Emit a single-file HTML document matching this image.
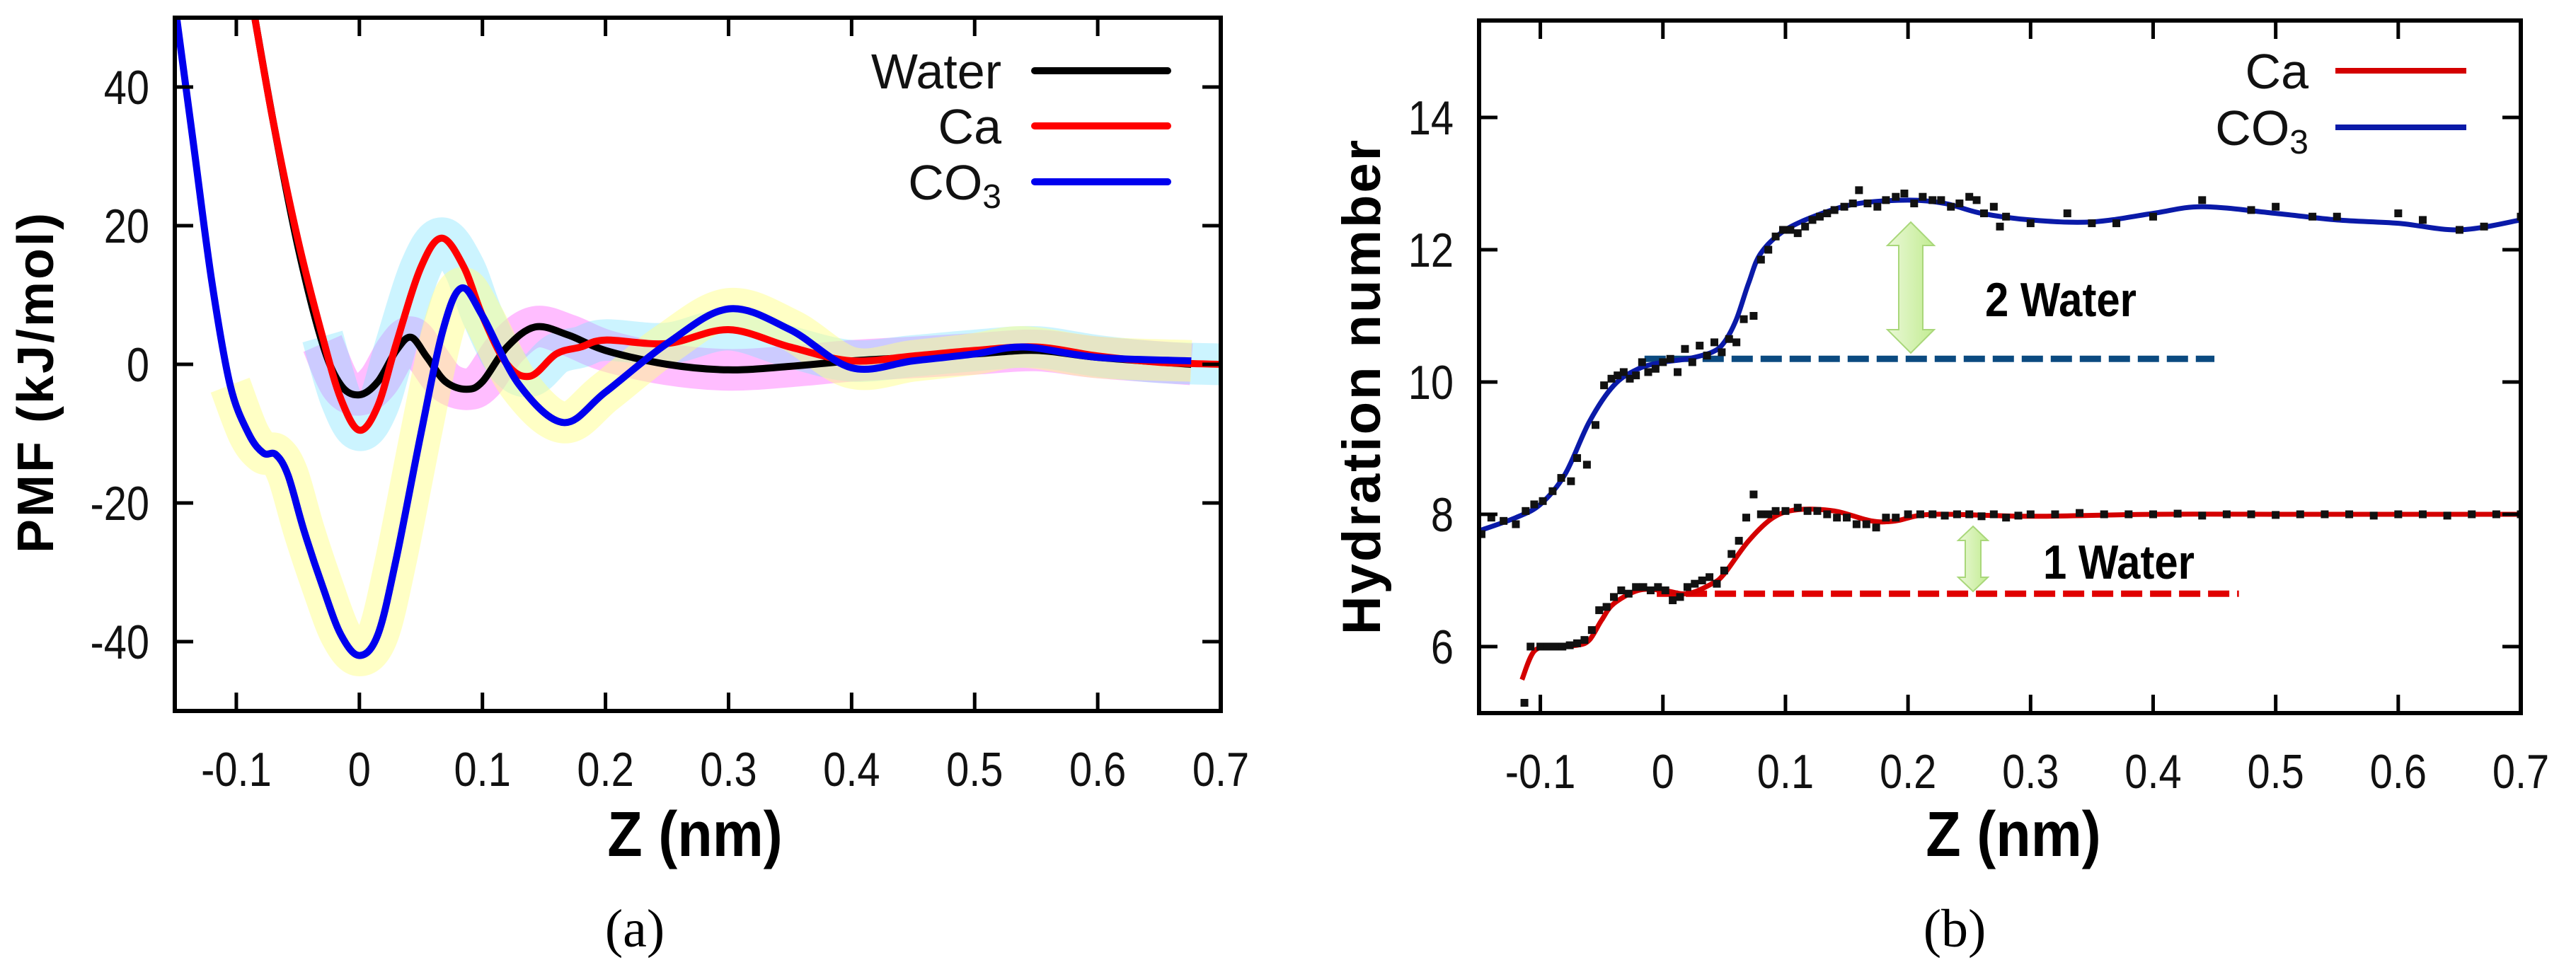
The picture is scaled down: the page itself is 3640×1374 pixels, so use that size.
<!DOCTYPE html>
<html><head><meta charset="utf-8">
<style>
html,body{margin:0;padding:0;background:#fff;}
svg{display:block;}
</style></head>
<body>
<svg id="fig" width="3640" height="1374" viewBox="0 0 3640 1374" xmlns="http://www.w3.org/2000/svg" style="font-family:'Liberation Sans',sans-serif">
<g id="pa"></g>
<g id="pb"></g>
</svg>
<script>
// ---------- Panel (a) data : PMF (kJ/mol) ----------
const pmfXTicks = [-0.1,0,0.1,0.2,0.3,0.4,0.5,0.6,0.7];
const pmfYTicks = [-40,-20,0,20,40];
const waterZ = [-0.085,-0.07,-0.05,-0.03,-0.015,0,0.015,0.03,0.042,0.055,0.07,0.087,0.1,0.12,0.143,0.17,0.2,0.25,0.3,0.35,0.4,0.45,0.5,0.55,0.6,0.676];
const waterV = [50,35,17,3,-3,-4.4,-2.5,2,3.9,1,-2.5,-3.6,-2.5,2.5,5.4,4.2,2,0,-0.8,-0.3,0.5,1,1.5,2,1,0];
const caZ = [-0.085,-0.07,-0.05,-0.03,-0.015,0,0.015,0.03,0.05,0.067,0.085,0.1,0.12,0.139,0.16,0.18,0.2,0.25,0.3,0.35,0.4,0.45,0.5,0.55,0.6,0.65,0.7];
const caV = [50,35,18,4,-5,-9.5,-6,3,14,18.2,14,7,0,-1.7,1.5,2.5,3.5,3,5,2.5,0.5,1.2,2,2.5,1.2,0.3,0];
const co3Z = [-0.15,-0.135,-0.12,-0.105,-0.09,-0.078,-0.068,-0.058,-0.045,-0.03,-0.015,0,0.015,0.03,0.05,0.068,0.083,0.1,0.13,0.166,0.2,0.25,0.3,0.35,0.4,0.45,0.5,0.54,0.6,0.676];
const co3V = [52,32,12,-3,-10,-12.8,-13,-16,-24,-32,-39,-42,-39,-28,-10,5,11,7,-3,-8.4,-4,3,8,5,-0.5,0.5,1.5,2.5,1,0.5];
const pmfBand = 3;
const bandStartZ = [-0.03,-0.03,-0.11];

// ---------- Panel (b) data : hydration number ----------
const hydXTicks = [-0.1,0,0.1,0.2,0.3,0.4,0.5,0.6,0.7];
const hydYTicks = [6,8,10,12,14];
const co3FitZ = [-0.15,-0.12,-0.1,-0.08,-0.06,-0.04,-0.02,0,0.02,0.04,0.05,0.06,0.07,0.08,0.1,0.13,0.16,0.2,0.23,0.26,0.3,0.35,0.4,0.44,0.5,0.55,0.6,0.65,0.7];
const co3FitN = [7.75,7.95,8.15,8.6,9.4,9.95,10.2,10.3,10.35,10.45,10.6,10.95,11.5,11.95,12.3,12.55,12.7,12.75,12.7,12.55,12.45,12.42,12.55,12.65,12.55,12.45,12.4,12.3,12.45];
const caFitZ = [-0.115,-0.105,-0.09,-0.07,-0.06,-0.05,-0.04,-0.02,0,0.02,0.04,0.05,0.07,0.09,0.11,0.14,0.17,0.19,0.22,0.3,0.4,0.5,0.6,0.7];
const caFitN = [5.5,5.93,6.0,6.02,6.1,6.4,6.65,6.85,6.85,6.8,6.95,7.1,7.6,7.95,8.07,8.05,7.9,7.9,8.0,7.97,8.0,8.0,8.0,8.0];
const co3PtsZ = [-0.148,-0.14,-0.13,-0.12,-0.112,-0.105,-0.098,-0.09,-0.083,-0.075,-0.07,-0.062,-0.055,-0.048,-0.042,-0.037,-0.032,-0.027,-0.022,-0.017,-0.012,-0.006,0,0.006,0.012,0.018,0.024,0.03,0.036,0.042,0.048,0.054,0.06,0.066,0.074,0.08,0.086,0.092,0.098,0.104,0.11,0.116,0.122,0.128,0.134,0.14,0.148,0.155,0.16,0.167,0.175,0.182,0.19,0.197,0.205,0.212,0.22,0.227,0.235,0.242,0.25,0.256,0.262,0.27,0.275,0.28,0.3,0.33,0.35,0.37,0.4,0.44,0.48,0.5,0.53,0.55,0.6,0.62,0.65,0.67,0.7];
const co3PtsN = [7.7,7.95,7.9,7.85,8.05,8.15,8.2,8.35,8.55,8.5,8.85,8.75,9.35,9.95,10.05,10.1,10.15,10.05,10.1,10.3,10.15,10.2,10.3,10.35,10.15,10.5,10.3,10.55,10.4,10.6,10.45,10.65,10.6,10.95,11.0,11.85,12.0,12.2,12.3,12.3,12.25,12.35,12.45,12.5,12.55,12.6,12.65,12.7,12.9,12.7,12.65,12.75,12.8,12.85,12.7,12.8,12.75,12.75,12.65,12.7,12.8,12.75,12.55,12.65,12.35,12.5,12.4,12.55,12.4,12.4,12.5,12.75,12.6,12.65,12.5,12.5,12.55,12.45,12.3,12.35,12.5];
const caPtsZ = [-0.113,-0.108,-0.1,-0.094,-0.088,-0.082,-0.076,-0.07,-0.064,-0.058,-0.052,-0.046,-0.04,-0.034,-0.028,-0.022,-0.016,-0.01,-0.004,0.002,0.008,0.014,0.02,0.026,0.032,0.038,0.044,0.05,0.056,0.062,0.068,0.074,0.08,0.086,0.092,0.1,0.11,0.118,0.126,0.134,0.142,0.15,0.158,0.166,0.174,0.182,0.19,0.2,0.21,0.22,0.23,0.24,0.25,0.26,0.27,0.28,0.29,0.3,0.32,0.34,0.36,0.38,0.4,0.42,0.44,0.46,0.48,0.5,0.52,0.54,0.56,0.58,0.6,0.62,0.64,0.66,0.68,0.7];
const caPtsN = [5.15,6.0,6.0,6.0,6.0,6.0,6.02,6.05,6.1,6.25,6.55,6.6,6.75,6.85,6.8,6.9,6.9,6.85,6.9,6.85,6.7,6.75,6.9,6.95,7.0,7.05,6.95,7.15,7.4,7.6,7.95,8.3,8.0,8.0,8.05,8.05,8.1,8.05,8.05,8.0,7.95,7.95,7.85,7.85,7.8,7.95,7.95,8.0,8.0,8.0,7.98,8.0,8.0,7.97,8.0,7.95,7.98,8.0,8.0,8.02,8.0,8.0,8.0,8.01,7.98,8.0,8.0,7.99,8.0,8.0,8.0,7.98,8.0,8.0,7.98,8.0,8.0,8.0];
const co3RefN = 10.35;
const caRefN = 6.8;

const NS = "http://www.w3.org/2000/svg";
function el(tag, attrs, parent, txt){
  const e = document.createElementNS(NS, tag);
  for (const k in attrs) e.setAttribute(k, attrs[k]);
  if (txt !== undefined) e.textContent = txt;
  parent.appendChild(e);
  return e;
}
function smoothPath(xs, ys, sx, sy){
  const p = xs.map((x,i)=>[sx(x), sy(ys[i])]);
  let d = "M"+p[0][0].toFixed(1)+","+p[0][1].toFixed(1);
  for (let i=0;i<p.length-1;i++){
    const p0=p[Math.max(i-1,0)], p1=p[i], p2=p[i+1], p3=p[Math.min(i+2,p.length-1)];
    const c1=[p1[0]+(p2[0]-p0[0])/6, p1[1]+(p2[1]-p0[1])/6];
    const c2=[p2[0]-(p3[0]-p1[0])/6, p2[1]-(p3[1]-p1[1])/6];
    d += " C"+c1[0].toFixed(1)+","+c1[1].toFixed(1)+" "+c2[0].toFixed(1)+","+c2[1].toFixed(1)+" "+p2[0].toFixed(1)+","+p2[1].toFixed(1);
  }
  return d;
}
function frame(g, L, R, T, B, xT, yT, sx, sy, xFmt){
  for (const t of yT){
    const y = sy(t);
    const a = el("line",{x1:L,x2:L+26,y1:y,y2:y,stroke:"#000","stroke-width":5},g);
    
    
    el("line",{x1:R,x2:R-26,y1:y,y2:y,stroke:"#000","stroke-width":5},g);
    const lb = el("text",{x:0,y:y+24,"text-anchor":"end","font-size":68,fill:"#111",transform:"translate("+(L-36)+",0) scale(0.85,1)"},g,String(t));
    
    
  }
  for (const t of xT){
    const x = sx(t);
    el("line",{x1:x,x2:x,y1:B,y2:B-26,stroke:"#000","stroke-width":5},g);
    el("line",{x1:x,x2:x,y1:T,y2:T+26,stroke:"#000","stroke-width":5},g);
    const lb = el("text",{x:0,y:B+106,"text-anchor":"middle","font-size":68,fill:"#111",transform:"translate("+x+",0) scale(0.85,1)"},g,xFmt(t));
    
    
  }
  const f = el("rect",{x:L,y:T,width:R-L,height:B-T,fill:"none",stroke:"#000","stroke-width":6},g);
  
  
}
const fmt = t => String(t);

// ---------- Panel (a) ----------
(function(){
  const g = document.getElementById("pa");
  const L=247,R=1725,T=25,B=1005;
  const sx = z => L + (z+0.15)/0.85*(R-L);
  const sy = v => 515 - v*9.8;
  const clip = el("clipPath",{id:"clipA"},g);
  el("rect",{x:L,y:T,width:R-L,height:B-T},clip);
  const plot = el("g",{"clip-path":"url(#clipA)"},g);
  const bands = [[waterZ,waterV,"rgba(255,90,255,0.4)"],[caZ,caV,"rgba(120,225,255,0.38)"],[co3Z,co3V,"rgba(255,255,140,0.5)"]];
  bands.forEach(([xs,ys,c],k)=>{
    const ix = xs.map((x,i)=>i).filter(i=>xs[i]>=bandStartZ[k]);
    const p = el("path",{d:smoothPath(ix.map(i=>xs[i]),ix.map(i=>ys[i]),sx,sy),fill:"none",stroke:c,"stroke-width":pmfBand*2*9.8,"stroke-linejoin":"round"},plot);
    
    
  });
  const series = [[waterZ,waterV,"#000","water-line"],[caZ,caV,"#ff0000","ca-line"],[co3Z,co3V,"#0000ee","co3-line"]];
  for (const [xs,ys,c,n] of series){
    const p = el("path",{d:smoothPath(xs,ys,sx,sy),fill:"none",stroke:c,"stroke-width":10,"stroke-linejoin":"round"},plot);
    
    
  }
  frame(g,L,R,T,B,pmfXTicks,pmfYTicks,sx,sy,fmt);
  const leg = el("g",{},g);
  
  
  const items = [["Water","#000",100],["Ca","#ff0000",178],["CO","#0000ee",257]];
  for (const [t,c,y] of items){
    const tx = el("text",{x:1415,y:y+25,"text-anchor":"end","font-size":70,fill:"#111"},leg,t);
    if (t==="CO"){ el("tspan",{"font-size":48,dy:12},tx,"3"); }
    
    
    const ln = el("line",{x1:1462,x2:1650,y1:y,y2:y,stroke:c,"stroke-width":10,"stroke-linecap":"round"},leg);
    
    
  }
  const yl = el("text",{x:0,y:0,"text-anchor":"middle","font-size":72,"font-weight":"bold",fill:"#000",transform:"translate(75,540) rotate(-90)","letter-spacing":"3"},g,"PMF (kJ/mol)");
  
  
  const xl = el("text",{x:0,y:0,"text-anchor":"middle","font-size":90,"font-weight":"bold",fill:"#000",transform:"translate(982,1210) scale(0.9,1)"},g,"Z (nm)");
  
  
  const cap = el("text",{x:897,y:1338,"text-anchor":"middle","font-size":76,fill:"#000",style:"font-family:'Liberation Serif',serif"},g,"(a)");
  
  
})();

// ---------- Panel (b) ----------
(function(){
  const g = document.getElementById("pb");
  const L=2090,R=3562,T=29,B=1008;
  const sx = z => L + (z+0.15)/0.85*(R-L);
  const sy = n => 727 - (n-8)*93.5;
  const clip = el("clipPath",{id:"clipB"},g);
  el("rect",{x:L,y:T,width:R-L,height:B-T},clip);
  const plot = el("g",{"clip-path":"url(#clipB)"},g);
  const d1 = el("line",{x1:sx(-0.015),x2:sx(0.45),y1:sy(co3RefN),y2:sy(co3RefN),stroke:"#0b4a80","stroke-width":9,"stroke-dasharray":"30 11"},plot);
  
  
  const d2 = el("line",{x1:sx(-0.005),x2:sx(0.47),y1:sy(caRefN),y2:sy(caRefN),stroke:"#e00000","stroke-width":9,"stroke-dasharray":"30 11"},plot);
  
  
  const f1 = el("path",{d:smoothPath(co3FitZ,co3FitN,sx,sy),fill:"none",stroke:"#0a1aa8","stroke-width":7},plot);
  
  
  const f2 = el("path",{d:smoothPath(caFitZ,caFitN,sx,sy),fill:"none",stroke:"#d40000","stroke-width":7},plot);
  
  
  for (let i=0;i<co3PtsZ.length;i++){
    const r = el("rect",{x:sx(co3PtsZ[i])-5.5,y:sy(co3PtsN[i])-5.5,width:11,height:11,fill:"#111"},plot);
    
    
  }
  for (let i=0;i<caPtsZ.length;i++){
    const r = el("rect",{x:sx(caPtsZ[i])-5.5,y:sy(caPtsN[i])-5.5,width:11,height:11,fill:"#111"},plot);
    
    
  }
  frame(g,L,R,T,B,hydXTicks,hydYTicks,sx,sy,fmt);
  const defs = el("defs",{},g);
  const gr = el("linearGradient",{id:"ag",x1:0,y1:0,x2:1,y2:0},defs);
  el("stop",{offset:"0","stop-color":"#eaf8d6"},gr);
  el("stop",{offset:"1","stop-color":"#c2ec92"},gr);
  function arrow(cx, y1, y2, w, hw, hh, name){
    const pts = [[cx,y1],[cx+hw,y1+hh],[cx+w,y1+hh],[cx+w,y2-hh],[cx+hw,y2-hh],[cx,y2],[cx-hw,y2-hh],[cx-w,y2-hh],[cx-w,y1+hh],[cx-hw,y1+hh]];
    const a = el("polygon",{points:pts.map(p=>p.join(",")).join(" "),fill:"url(#ag)",stroke:"#a9d77a","stroke-width":2},g);
    
    
  }
  arrow(2700,314,499,17,33,33,"two-water-arrow");
  arrow(2788,744,836,11,21,20,"one-water-arrow");
  const t2 = el("text",{x:0,y:447,"font-size":68,"font-weight":"bold",fill:"#000",transform:"translate(2805,0) scale(0.88,1)"},g,"2 Water");
  
  
  const t1 = el("text",{x:0,y:818,"font-size":68,"font-weight":"bold",fill:"#000",transform:"translate(2887,0) scale(0.88,1)"},g,"1 Water");
  
  
  const leg = el("g",{},g);
  
  
  const items = [["Ca","#d40000",100],["CO","#0a1aa8",180]];
  for (const [t,c,y] of items){
    const tx = el("text",{x:3262,y:y+25,"text-anchor":"end","font-size":70,fill:"#111"},leg,t);
    if (t==="CO"){ el("tspan",{"font-size":48,dy:12},tx,"3"); }
    
    
    const ln = el("line",{x1:3300,x2:3485,y1:y,y2:y,stroke:c,"stroke-width":8},leg);
    
    
  }
  const yl = el("text",{x:0,y:0,"text-anchor":"middle","font-size":76,"font-weight":"bold",fill:"#000",transform:"translate(1950,546) rotate(-90)","letter-spacing":"3"},g,"Hydration number");
  
  
  const xl = el("text",{x:0,y:0,"text-anchor":"middle","font-size":90,"font-weight":"bold",fill:"#000",transform:"translate(2845,1210) scale(0.9,1)"},g,"Z (nm)");
  
  
  const cap = el("text",{x:2762,y:1338,"text-anchor":"middle","font-size":76,fill:"#000",style:"font-family:'Liberation Serif',serif"},g,"(b)");
  
  
})();
</script>
</body></html>
